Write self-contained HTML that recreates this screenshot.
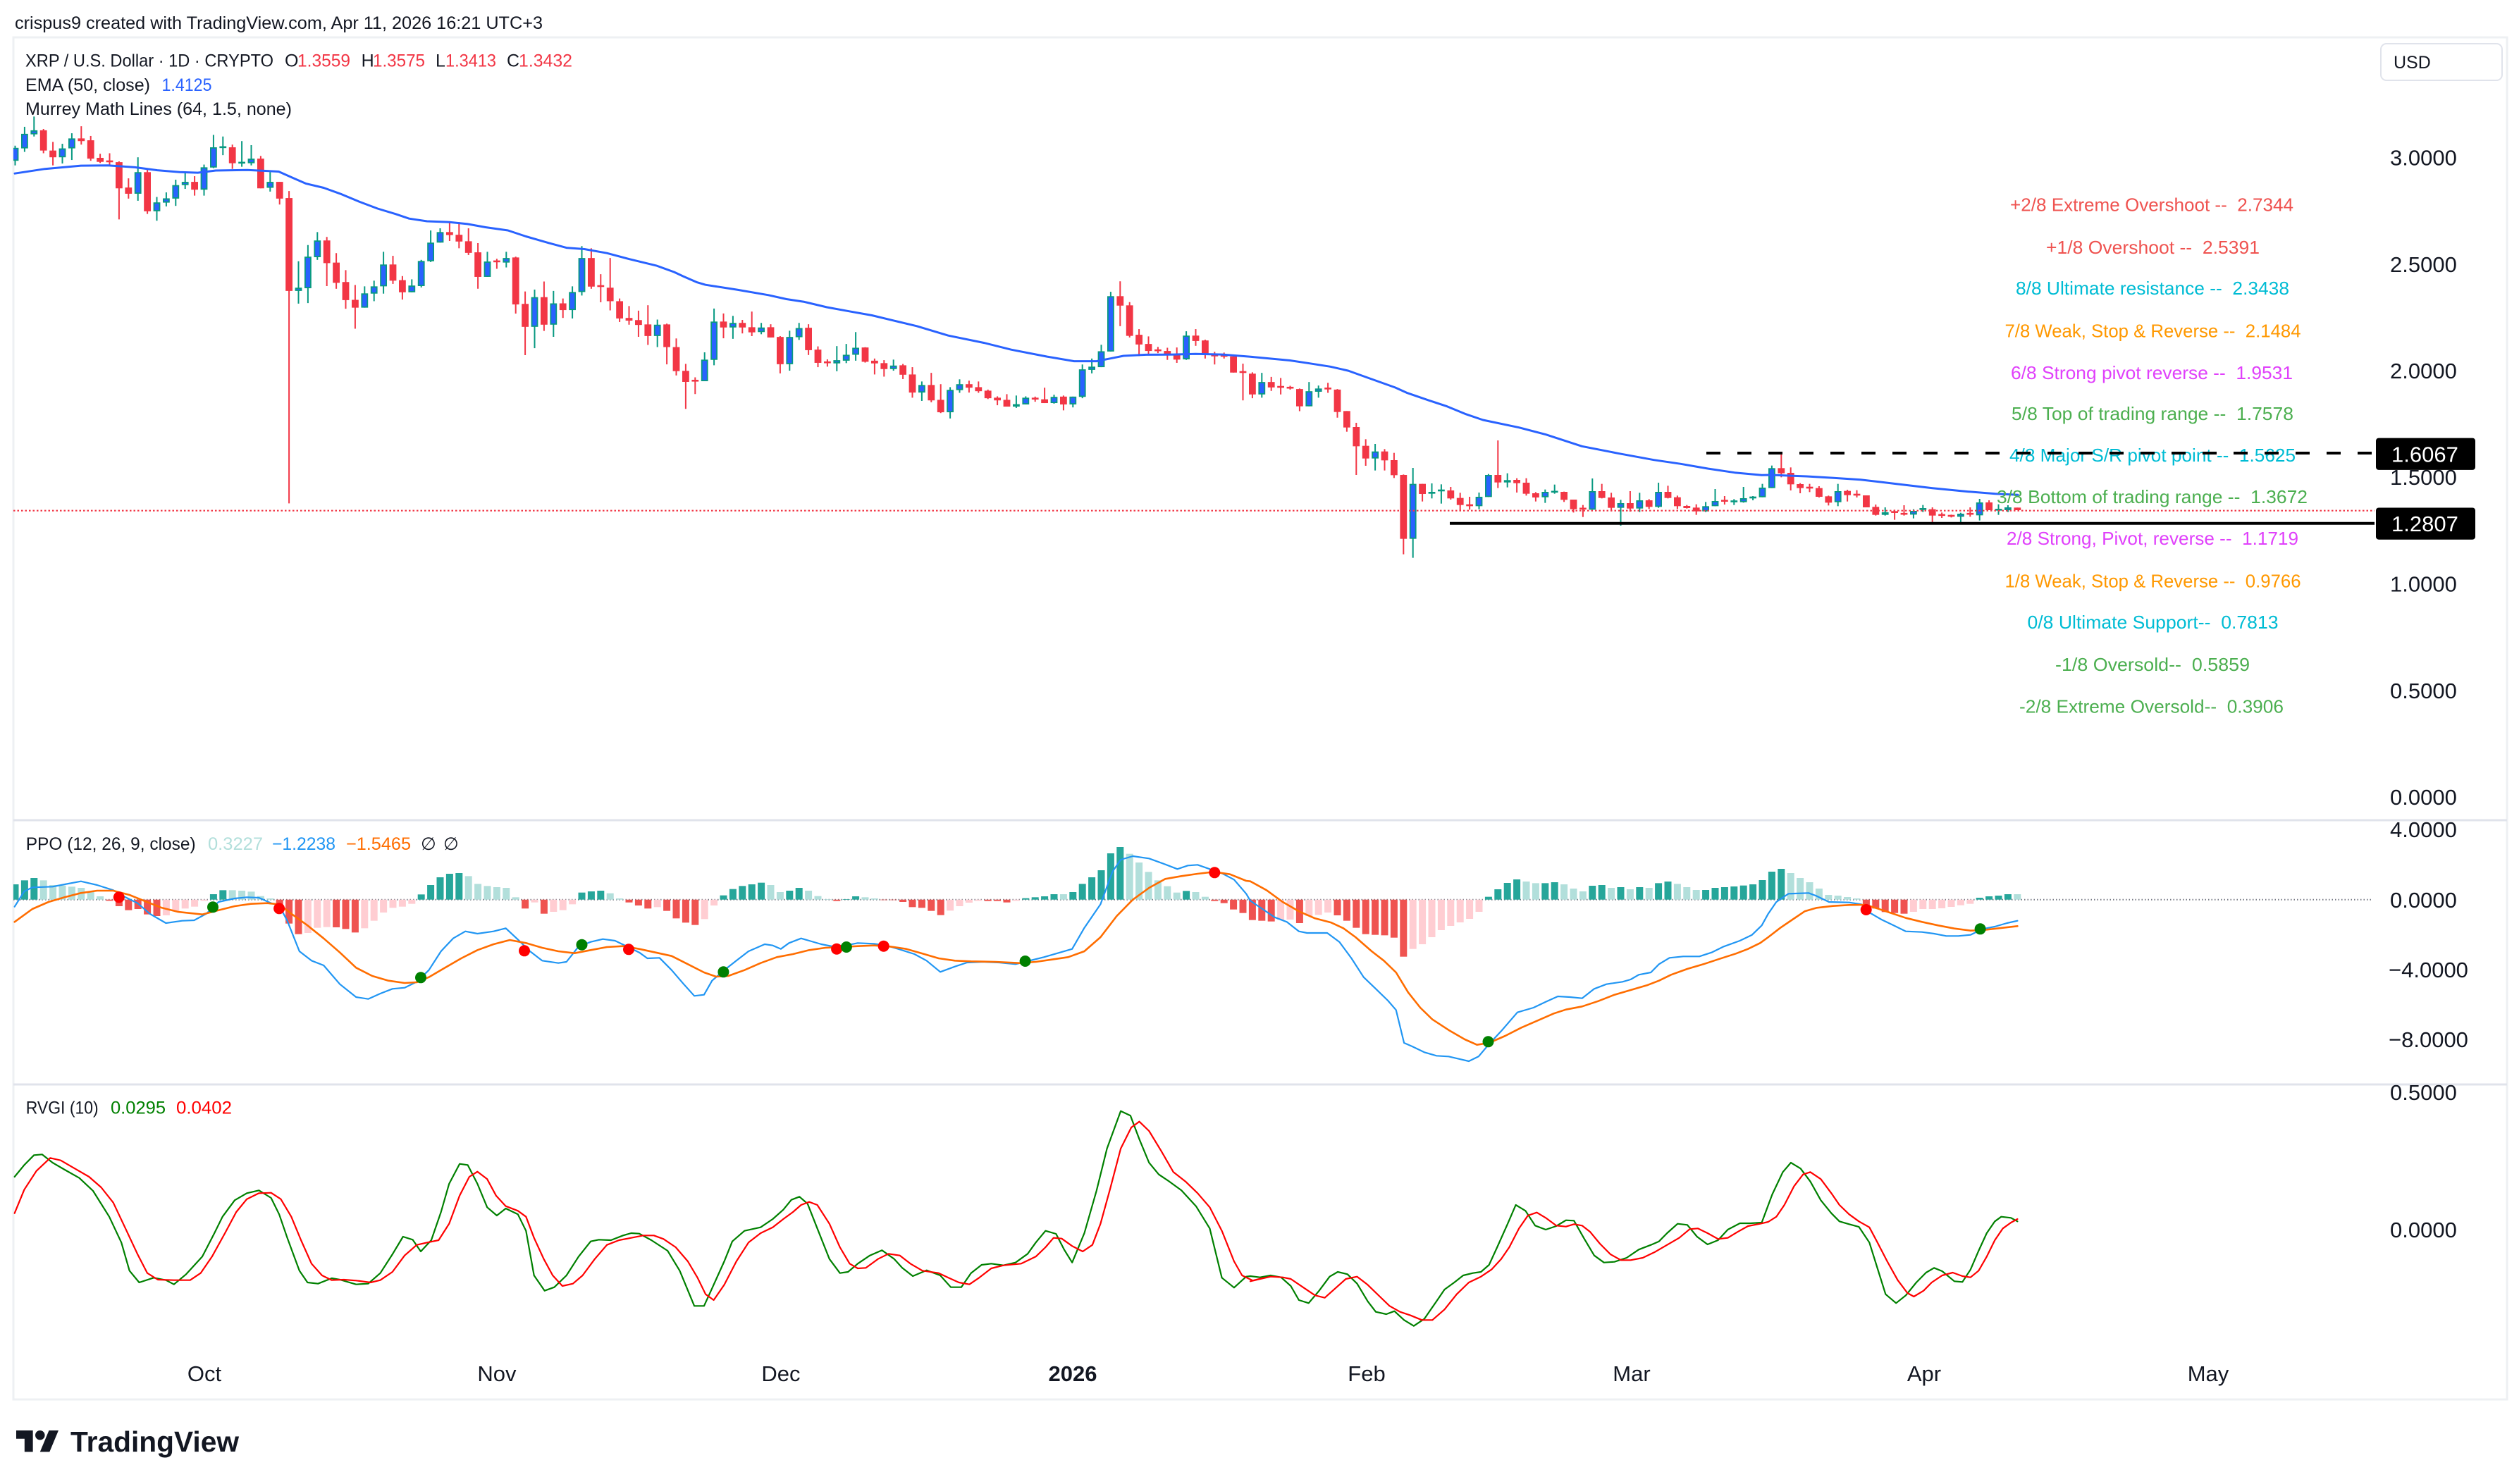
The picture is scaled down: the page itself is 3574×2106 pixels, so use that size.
<!DOCTYPE html>
<html><head><meta charset="utf-8"><style>
html,body{margin:0;padding:0;background:#fff;}
svg{display:block;}
text{font-family:"Liberation Sans",Arial,sans-serif;white-space:pre;}
</style></head><body>
<svg id="s" xmlns="http://www.w3.org/2000/svg" width="3574" height="2106" viewBox="0 0 3574 2106">
<defs>
<clipPath id="cp"><rect x="19" y="53" width="3538" height="1110"/></clipPath>
<clipPath id="cq"><rect x="19" y="1165" width="3538" height="373"/></clipPath>
<clipPath id="cr"><rect x="19" y="1540" width="3538" height="440"/></clipPath>
</defs>
<rect width="3574" height="2106" fill="#fff"/>
<text x="21" y="41" font-size="25" fill="#131722" textLength="749" lengthAdjust="spacingAndGlyphs">crispus9 created with TradingView.com, Apr 11, 2026 16:21 UTC+3</text>
<rect x="19" y="53" width="3538" height="1933" fill="none" stroke="#eef0f3" stroke-width="3"/>
<line x1="19" y1="1164" x2="3557" y2="1164" stroke="#e0e3eb" stroke-width="3"/>
<line x1="19" y1="1539" x2="3557" y2="1539" stroke="#e0e3eb" stroke-width="3"/>

<line x1="19" y1="1276.7" x2="3364" y2="1276.7" stroke="#787b86" stroke-width="2" stroke-dasharray="1.5 3"/>
<g id="gh" clip-path="url(#cq)"></g>
<g id="gp" clip-path="url(#cq)"></g>
<g id="gd"></g>
<g id="gr" clip-path="url(#cr)"></g>
<g id="gc" clip-path="url(#cp)"></g>
<g id="ge" clip-path="url(#cp)"></g>
<line x1="19" y1="724.7" x2="3369" y2="724.7" stroke="#f23645" stroke-width="2.2" stroke-dasharray="2.5 3"/>

<g font-size="26">
<text x="2852" y="299.4" fill="#ef5350" textLength="402" lengthAdjust="spacingAndGlyphs">+2/8 Extreme Overshoot --  2.7344</text>
<text x="2903" y="360" fill="#ef5350" textLength="303" lengthAdjust="spacingAndGlyphs">+1/8 Overshoot --  2.5391</text>
<text x="2860" y="418.2" fill="#00bcd4" textLength="388" lengthAdjust="spacingAndGlyphs">8/8 Ultimate resistance --  2.3438</text>
<text x="2844.5" y="478.4" fill="#ff9800" textLength="420" lengthAdjust="spacingAndGlyphs">7/8 Weak, Stop &amp; Reverse --  2.1484</text>
<text x="2853" y="538.1" fill="#e040fb" textLength="400" lengthAdjust="spacingAndGlyphs">6/8 Strong pivot reverse --  1.9531</text>
<text x="2854" y="595.8" fill="#4caf50" textLength="400" lengthAdjust="spacingAndGlyphs">5/8 Top of trading range --  1.7578</text>
<text x="2851" y="655.2" fill="#00bcd4" textLength="406" lengthAdjust="spacingAndGlyphs">4/8 Major S/R pivot point --  1.5625</text>
<text x="2833" y="713.8" fill="#4caf50" textLength="441" lengthAdjust="spacingAndGlyphs">3/8 Bottom of trading range --  1.3672</text>
<text x="2847" y="773.2" fill="#e040fb" textLength="414" lengthAdjust="spacingAndGlyphs">2/8 Strong, Pivot, reverse --  1.1719</text>
<text x="2844.5" y="833.7" fill="#ff9800" textLength="420" lengthAdjust="spacingAndGlyphs">1/8 Weak, Stop &amp; Reverse --  0.9766</text>
<text x="2876.5" y="892" fill="#00bcd4" textLength="356" lengthAdjust="spacingAndGlyphs">0/8 Ultimate Support--  0.7813</text>
<text x="2916" y="952.1" fill="#4caf50" textLength="276" lengthAdjust="spacingAndGlyphs">-1/8 Oversold--  0.5859</text>
<text x="2865" y="1011.4" fill="#4caf50" textLength="375" lengthAdjust="spacingAndGlyphs">-2/8 Extreme Oversold--  0.3906</text>
</g>

<line x1="2421" y1="643" x2="3369" y2="643" stroke="#000" stroke-width="4" stroke-dasharray="20 24"/>
<line x1="2057" y1="742.7" x2="3369" y2="742.7" stroke="#000" stroke-width="4"/>

<g font-size="31" fill="#131722">
<text x="3391" y="234.7">3.0000</text>
<text x="3391" y="386">2.5000</text>
<text x="3391" y="537.2">2.0000</text>
<text x="3391" y="688.2">1.5000</text>
<text x="3391" y="839.7">1.0000</text>
<text x="3391" y="991.2">0.5000</text>
<text x="3391" y="1142.2">0.0000</text>
<text x="3391" y="1187.9">4.0000</text>
<text x="3391" y="1287.9">0.0000</text>
<text x="3389" y="1387.2">−4.0000</text>
<text x="3389" y="1486.2">−8.0000</text>
<text x="3391" y="1561.2">0.5000</text>
<text x="3391" y="1756.2">0.0000</text>
</g>
<rect x="3371" y="621.6" width="141" height="45.3" rx="4" fill="#000"/>
<text x="3393" y="655.4" font-size="31" fill="#fff">1.6067</text>
<rect x="3371" y="720.5" width="141" height="45.2" rx="4" fill="#000"/>
<text x="3393" y="754.2" font-size="31" fill="#fff">1.2807</text>

<rect x="3378" y="62" width="172" height="52" rx="8" fill="#fff" stroke="#e0e3eb" stroke-width="2"/>
<text x="3396" y="97" font-size="25" fill="#131722">USD</text>

<g font-size="25" fill="#131722">
<text x="36" y="94.7" textLength="352" lengthAdjust="spacingAndGlyphs">XRP / U.S. Dollar · 1D · CRYPTO</text>
<text x="404" y="94.7">O</text><text x="422" y="94.7" fill="#f23645" textLength="75" lengthAdjust="spacingAndGlyphs">1.3559</text>
<text x="512.6" y="94.7">H</text><text x="529" y="94.7" fill="#f23645" textLength="74" lengthAdjust="spacingAndGlyphs">1.3575</text>
<text x="618" y="94.7">L</text><text x="632" y="94.7" fill="#f23645" textLength="72" lengthAdjust="spacingAndGlyphs">1.3413</text>
<text x="719" y="94.7">C</text><text x="736" y="94.7" fill="#f23645" textLength="76" lengthAdjust="spacingAndGlyphs">1.3432</text>
<text x="36" y="129" textLength="177" lengthAdjust="spacingAndGlyphs">EMA (50, close)</text>
<text x="229.5" y="129" fill="#2962ff" textLength="71" lengthAdjust="spacingAndGlyphs">1.4125</text>
<text x="36" y="163" textLength="378" lengthAdjust="spacingAndGlyphs">Murrey Math Lines (64, 1.5, none)</text>
<text x="36.7" y="1206" textLength="241" lengthAdjust="spacingAndGlyphs">PPO (12, 26, 9, close)</text>
<text x="295" y="1206" fill="#b2dfdb" textLength="78" lengthAdjust="spacingAndGlyphs">0.3227</text>
<text x="386" y="1206" fill="#2196f3" textLength="90" lengthAdjust="spacingAndGlyphs">−1.2238</text>
<text x="491" y="1206" fill="#ff6d00" textLength="92" lengthAdjust="spacingAndGlyphs">−1.5465</text>
<text x="597" y="1206">∅</text><text x="629" y="1206">∅</text>
<text x="36.7" y="1580.7" textLength="103" lengthAdjust="spacingAndGlyphs">RVGI (10)</text>
<text x="157" y="1580.7" fill="#008000" textLength="78" lengthAdjust="spacingAndGlyphs">0.0295</text>
<text x="250" y="1580.7" fill="#ff0000" textLength="79" lengthAdjust="spacingAndGlyphs">0.0402</text>
</g>

<g font-size="31" fill="#131722" text-anchor="middle">
<text x="290" y="1960">Oct</text>
<text x="705" y="1960">Nov</text>
<text x="1108" y="1960">Dec</text>
<text x="1522" y="1960" font-weight="bold">2026</text>
<text x="1939" y="1960">Feb</text>
<text x="2315" y="1960">Mar</text>
<text x="2730" y="1960">Apr</text>
<text x="3133" y="1960">May</text>
</g>

<g transform="translate(23,2023.2) scale(1.69)" fill="#131722">
<path d="M14 22H7V11H0V4h14v18z"/>
<circle cx="20" cy="8" r="4"/>
<path d="M28 22h-8l7.5-18h8L28 22z"/>
</g>
<text x="100" y="2060" font-size="41" font-weight="bold" fill="#131722" textLength="239" lengthAdjust="spacingAndGlyphs">TradingView</text>
</svg>
<script>
(function(){
var NS='http://www.w3.org/2000/svg';
function E(t,a,p){var e=document.createElementNS(NS,t);for(var k in a)e.setAttribute(k,a[k]);p.appendChild(e);return e;}
function X(i){return 21.5+13.4*i;}
function g(id){return document.getElementById(id);}
var C4="1,130,178,122,195;1,78,132,52,145;1,65,80,14,88;0,65,140,60,150;0,140,165,108,195;1,132,165,115,188;1,95,132,76,175;0,95,105,50,118;0,102,170,86,178;0,167,182,152,186;0,178,182,150,198;0,183,280,180,395;0,277,300,243,318;1,220,300,165,326;0,220,365,205,375;1,332,365,312,400;1,317,333,295,347;1,268,318,248,345;1,256,268,218,282;0,256,285,235,307;1,202,285,192,307;1,128,203,82,205;1,125,130,88,157;0,128,187,118,208;1,183,187,105,200;1,170,187,120,195;0,170,280,160,280;1,256,278,220,292;0,256,318,256,340;0,316,660,290,1447;1,648,660,550,707;1,533,650,490,705;1,473,535,442,545;0,473,557,460,642;0,555,630,520,652;0,627,694,583,726;0,693,722,638,800;1,669,722,643,722;1,643,670,622,698;1,562,643,515,670;0,562,622,530,634;0,620,665,605,692;1,640,665,617,665;1,549,642,545,647;1,481,550,436,553;1,442,481,428,481;0,442,453,403,475;0,452,477,405,502;0,476,519,428,527;0,517,608,483,652;1,551,608,515,608;0,548,553,541,578;1,538,555,515,573;0,536,710,533,744;0,708,793,662,898;1,683,793,655,872;0,683,785,625,808;1,706,785,660,830;0,706,731,688,760;1,664,731,643,762;1,538,664,494,677;0,538,644,502,652;0,640,644,598,702;0,648,698,538,732;0,698,762,688,775;0,760,770,716,785;0,768,786,733,830;0,784,827,713,860;1,785,827,766,868;0,784,868,781,932;0,868,957,836,973;0,956,997,930,1097;0,990,995,980,1042";
var C5="1,549,629,522,629;1,408,550,360,570;0,408,430,378,470;1,413,430,387,472;0,413,430,402,452;0,429,448,371,462;1,430,447,413,455;0,429,467,418,467;0,465,566,462,600;1,465,566,442,590;1,432,466,413,476;0,431,514,418,532;0,512,561,500,577;0,557,561,548,575;1,551,563,499,592;1,531,553,491,562;1,505,531,447,553;0,504,557,503,560;0,553,563,545,604;0,562,584,551,612;1,571,584,549,590;0,570,605,565,621;0,604,671,577,690;1,643,671,630,702;0,643,700,598,707;0,698,744,640,747;1,661,744,651,767;1,640,662,622,672;0,640,653,627,671;0,651,666,630,672;0,664,692,660,695;0,690,700,685,718;0,698,723,677,723;1,714,723,682,728;1,690,715,685,715;0,690,697,686,705;0,696,710,653,710;1,687,710,679,712;0,686,715,682,737;1,686,715,686,726;1,585,687,567,692;1,575,587,545,600;1,518,577,494,577;1,314,519,298,519;0,314,349,259,425;0,348,461,336,467;0,457,493,436,536;0,491,517,463,530;0,512,517,502,525;0,517,533,505,550;0,532,549,504,561;1,460,548,444,550;0,460,480,436,498;0,478,527,475,545;0,526,537,520,567;0,533,537,523,545;0,537,597,535,597;0,593,597,564,700;0,601,678,596,692;1,632,678,598,690;0,632,652,613,665;0,648,652,617,678;0,651,655,646,660;0,658,722,656,740;1,666,722,632,722;1,656,668,645,690;0,654,658,635,672;0,660,743,658,764";
var C6="0,100,170,100,188;0,168,250,150,372;0,248,302,220,333;1,272,302,240,353;0,272,310,262,353;0,309,373,278,385;0,372,644,370,710;1,410,644,342,725;0,410,453,410,485;1,444,452,408,472;1,436,440,412,494;0,438,472,423,477;0,470,500,448,522;0,497,505,465,520;1,465,505,447,518;1,372,466,368,466;0,372,404,225,428;1,394,404,365,425;0,393,407,386,447;0,405,452,386,460;0,450,468,445,485;1,444,467,434,491;1,441,446,413,452;0,444,478,443,487;0,477,518,477,532;0,513,518,500,551;1,441,520,387,520;0,441,470,410,472;0,468,512,448,527;1,492,512,478,588;0,492,515,441,528;1,480,515,448,530;0,480,508,475,517;1,444,508,405,512;0,444,470,418,472;0,467,505,460,517;0,504,513,500,515;0,511,527,497,542;1,505,527,487,530;1,483,505,432,505;0,480,484,462,498;1,482,487,475,500;1,471,488,423,490;1,464,472,462,480;1,426,467,410,467;1,343,428,332,428;0,343,365,282,382;0,363,412,340,438;0,411,428,407,450;0,424,428,410,445;0,428,465,420,468;0,463,490,460,502;1,441,488,410,505;0,440,458,435,485;0,454,458,437,468;0,459,510,459,510;0,508,542,498,545;1,531,542,510,545;0,528,532,520,563;0,535,540,501,545;1,525,541,518,557;1,515,519,500,530;0,518,545,510,577;0,540,545,532,555;0,544,548,541,553;1,537,550,533,580;0,535,540,510,550;1,489,544,474,566;0,489,522,480,522;1,518,522,497,542;1,510,522,501,530;0,511,522,511,522";
var gc=g('gc');
[[0,160,2.61,C4],[73,300,2.61,C5],[141,550,3,C6]].forEach(function(sg){
 var st=sg[0],off=sg[1],sc=sg[2];
 sg[3].split(';').forEach(function(r,k){
  var c=r.split(',').map(Number),i=st+k,x=X(i),u=c[0];
  function Y(v){return off+v/sc;}
  var col=u?'#089981':'#f23645';
  E('line',{x1:x,x2:x,y1:Y(c[3]),y2:Y(c[4]),stroke:col,'stroke-width':2},gc);
  var t=Y(c[1]),b=Y(c[2]);
  if(b-t<2.6){var m=(t+b)/2;t=m-1.3;b=m+1.3;}
  if(u){E('rect',{x:x-4,y:t+0.9,width:8,height:Math.max(b-t-1.8,0.6),fill:'#2962ff',stroke:col,'stroke-width':1.8},gc);}
  else{E('rect',{x:x-4.9,y:t,width:9.8,height:b-t,fill:col},gc);}
 });
});
function P(s){return s.trim().split(/\s+/).map(function(p){return p.split(',').map(Number);});}
function pl(parts,col,w,par){
 var pts=[];
 parts.forEach(function(pt){var fx=pt[1],fy=pt[2];P(pt[0]).forEach(function(p){pts.push(fx(p[0]).toFixed(1)+','+fy(p[1]).toFixed(1));});});
 E('polyline',{points:pts.join(' '),fill:'none',stroke:col,'stroke-width':w,'stroke-linejoin':'round','stroke-linecap':'round'},par);
}
// EMA
pl([["33,225 100,208 180,196 240,195 300,202 350,213 400,220 440,222 480,214 550,212 620,218 650,240 680,262 720,278 760,302 800,330 840,355 880,375 910,392 950,402 1000,405 1040,412 1080,424 1130,436 1170,458 1220,482 1260,500 1300,505 1350,520 1400,542 1460,566 1500,590",function(x){return x/1.568;},function(y){return 160+y/2.61;}],
["30,240 60,262 80,272 150,290 220,310 260,325 300,335 350,355 400,370 450,385 500,405 550,425 620,460 700,487 760,512 840,538 900,555 950,555 980,545 1010,535 1060,531 1120,530 1170,528 1230,530 1290,538 1380,552 1420,562 1470,575 1510,590 1540,608",function(x){return 950+x/1.568;},function(y){return 300+y/2.61;}],
["125,0 150,22 200,55 240,80 280,112 320,138 400,170 460,200 540,250 620,280 700,308 760,325 820,345 880,362 940,373 960,372 1040,378 1100,385 1160,392 1240,410 1320,428 1400,443 1460,452 1510,457",function(x){return 1900+x/1.568;},function(y){return 550+y/3;}]],'#2962ff',3,g('ge'));
// Histogram
var H="D315 D298 D288 L298 L318 L320 L325 L330 L348 L366 R385 R408 R425 R420 R443 R450 P447 P430 P418 P410 P385 D357 D340 L340 L342 L346 L365 L375 R407 R482 R527 P522 P500 P497 R498 R505 R520 P502 P470 P435 P415 P410 P398 D358 D318 D285 D270 D267 L280 L313 L322 L327 L330 L370 R418 P392 R440 P432 P425 P400 D350 D345 D342 L353 L375 R392 R405 R418 P412 R428 R460 R478 R488 P463 P405 D362 D335 D322 D315 D308 L318 L348 D342 D330 L342 L365 L378 R386 D378 D366 L370 L375 R382 R382 R390 R412 R415 R428 R446 P427 P408 P393 P385 R386 R386 R392 P385 D374 D370 D366 D357 L357 D348 D313 D285 D255 D183 D156 L185 L222 L262 L298 L323 L350 D343 L348 L368 R386 R395 R422 R437 R467 R470 R473 P466 P465 R480 P450 P445 P435 R447 R470 R500 R527 R530 R532 R542 R623 P590 P570 P540 P510 P492 P477 P462 P432 D368 D336 D309 D294 L303 L310 D310 D306 L315 L333 L345 D321 D318 L330 D327 L336 D327 L330 D310 D303 L313 L327 L339 D339 D330 D327 D324 D320 D315 D297 D261 D249 L267 L288 L306 L333 L360 L363 L369 L375 R408 R418 R433 R437 R440 P432 P420 P420 P417 P411 P404 P398 D372 D366 D363 D357 L357";
var HC={D:'#26a69a',L:'#b2dfdb',R:'#ef5350',P:'#ffcdd2'};
var gh=g('gh'),z=1276.7;
H.split(' ').forEach(function(s,i){var t=s[0],y=1150+Number(s.slice(1))/3,x=X(i);E('rect',{x:x-5,y:Math.min(y,z),width:10,height:Math.max(Math.abs(y-z),0.5),fill:HC[t]},gh);});
// PPO lines
var f7x=function(x){return x/0.871;},f8x=function(x){return 1774+x/0.871;},fpy=function(y){return 1150+y/3;};
pl([["18,410 30,345 40,328 65,325 80,315 100,302 120,318 140,340 155,370 170,395 185,440 205,480 225,470 240,468 255,440 270,390 290,375 305,370 320,372 335,395 345,405 355,470 370,600 385,640 400,660 420,740 440,795 455,803 470,780 485,760 500,755 515,730 530,680 545,600 560,545 575,515 590,525 610,515 625,502 640,550 655,600 670,640 690,650 700,645 715,580 730,560 745,548 760,555 775,580 790,605 800,630 815,628 830,680 845,740 858,790 870,785 880,725 895,680 910,640 925,600 945,570 955,575 965,590 975,565 990,545 1000,555 1015,570 1030,580 1045,575 1060,565 1080,568 1095,575 1110,590 1130,612 1145,640 1162,688 1180,665 1195,648 1215,645 1235,648 1255,655 1270,642 1290,625 1310,605 1325,590 1340,500 1360,400 1375,260 1385,210 1400,195 1420,205 1440,230 1455,250 1468,235 1480,232 1495,250 1510,268 1525,295 1540,355",f7x,fpy],
["0,385 15,420 30,455 45,475 60,515 70,522 95,522 110,560 125,630 140,710 155,760 170,810 180,850 190,990 200,1005 215,1030 230,1045 245,1048 260,1060 270,1068 282,1048 295,995 310,940 330,860 350,840 365,815 380,792 395,795 410,800 425,760 440,740 460,730 470,720 480,700 495,690 505,655 518,628 535,622 555,622 570,605 585,580 605,555 620,530 632,490 640,440 650,390 665,355 690,352 700,365 715,390 740,392 755,400 765,435 780,465 795,490 810,515 830,518 845,525 860,535 875,535 890,530 905,505 920,495 935,480 948,470",f8x,fpy]],'#2196f3',2.2,g('gp'));
pl([["18,475 40,420 60,390 80,370 100,352 120,342 140,342 160,360 180,388 200,415 220,432 250,443 270,425 290,408 310,398 330,395 345,400 360,440 380,490 400,545 420,605 440,670 460,705 480,725 500,735 515,732 530,710 550,670 570,630 590,595 610,570 630,552 650,565 670,585 690,600 710,608 730,595 750,582 770,578 790,590 810,605 830,620 850,655 870,690 885,708 900,705 920,680 940,650 960,625 980,612 1000,595 1020,585 1040,582 1060,578 1080,575 1100,580 1120,590 1140,610 1160,630 1180,640 1200,643 1230,645 1260,650 1280,645 1300,635 1320,625 1340,600 1360,540 1380,450 1400,380 1420,330 1440,292 1460,280 1480,270 1500,262 1520,272 1540,300",f7x,fpy],
["0,302 20,340 40,390 60,430 80,460 100,478 115,502 130,540 150,600 165,640 180,690 195,775 210,840 225,890 245,935 265,975 280,998 295,990 315,960 335,925 355,895 375,865 390,848 410,835 430,812 450,785 470,765 490,745 505,725 520,700 540,675 560,655 580,632 600,610 615,590 630,565 640,540 655,500 670,465 685,430 700,415 720,407 740,403 760,402 775,418 790,435 810,458 830,475 850,490 870,503 890,512 905,510 925,502 948,493",f8x,fpy]],'#ff6d00',2.6,g('gp'));
// Dots
var gd=g('gd');
[[168.8,1273.3,0],[302,1287.3,1],[396.1,1289.3,0],[597,1387.3,1],[744,1349.3,0],[825.5,1340.7,1],[892,1347.3,0],[1026.4,1379.3,1],[1187.1,1346.7,0],[1200.9,1344,1],[1253.7,1342.7,0],[1454.6,1364,1],[1723.3,1238.3,0],[2111.5,1478.3,1],[2647.7,1291,0],[2809.6,1318.3,1]].forEach(function(d){E('circle',{cx:d[0],cy:d[1],r:8,fill:d[2]?'#008000':'#ff0000'},gd);});
// RVGI
var fry=function(y){return 1530+y/3;};
pl([["18,420 30,370 42,328 52,325 65,360 80,390 98,425 115,480 135,590 150,700 160,820 172,870 190,850 205,860 215,878 230,835 250,760 265,660 275,590 290,520 305,490 320,478 335,510 345,580 355,680 370,820 380,870 393,875 410,852 420,858 440,878 455,875 470,830 485,750 498,675 510,688 520,738 533,690 545,570 555,450 568,365 578,370 590,450 602,550 614,585 625,555 640,580 650,650 660,840 673,905 685,890 700,840 715,760 730,695 740,688 755,690 770,670 780,660 790,662 805,690 825,735 840,820 858,970 870,970 880,895 895,780 905,695 920,650 940,635 955,600 968,560 978,518 988,505 998,535 1010,640 1025,770 1038,830 1048,825 1060,790 1075,755 1090,733 1105,770 1115,808 1128,843 1145,818 1162,840 1175,890 1188,890 1200,830 1213,795 1225,790 1240,797 1255,785 1270,748 1280,700 1292,650 1305,663 1315,730 1325,785 1340,660 1355,480 1368,300 1385,140 1397,160 1408,260 1420,360 1432,410 1445,440 1460,478 1478,545 1495,640 1510,850 1525,892 1540,845",f7x,fry],
["0,843 12,848 25,840 38,848 50,885 60,945 72,958 85,905 98,845 108,825 120,835 132,875 145,950 155,995 168,1005 178,992 190,1030 202,1055 215,1025 230,950 240,900 252,870 263,840 275,830 285,825 295,795 305,720 318,620 328,540 340,565 352,628 365,645 378,630 390,605 400,607 412,680 425,755 437,785 450,782 465,765 480,730 495,710 505,695 515,660 528,620 540,625 552,675 565,708 578,690 590,645 605,618 618,618 632,615 645,495 658,400 668,360 680,385 692,440 705,520 718,575 728,610 740,622 752,633 765,700 775,810 785,920 798,958 810,925 823,870 835,828 845,808 855,822 870,865 880,868 890,815 900,735 910,660 920,610 928,590 940,595 948,610",f8x,fry]],'#008000',2.2,g('gr'));
pl([["18,575 30,475 45,395 62,340 75,350 90,380 110,420 125,465 140,530 155,640 170,750 182,830 195,858 215,860 235,860 248,830 262,760 278,660 292,570 305,515 320,490 335,488 347,515 360,590 372,690 385,790 398,840 410,860 425,858 440,862 458,870 470,860 485,825 500,755 515,710 528,700 542,690 555,620 568,500 580,420 590,398 602,430 613,500 625,545 640,565 650,590 660,680 672,770 683,840 695,885 708,875 720,840 735,770 750,710 765,690 780,680 795,670 808,670 820,685 835,720 850,780 862,850 872,920 882,945 895,880 910,780 925,700 940,660 955,635 968,600 980,570 990,540 1000,527 1010,540 1025,620 1038,720 1050,790 1060,810 1070,808 1085,770 1098,748 1112,755 1125,790 1140,820 1160,830 1172,850 1185,870 1198,878 1210,850 1225,810 1240,797 1262,790 1280,760 1292,720 1302,680 1312,683 1325,715 1338,738 1350,710 1360,620 1372,470 1385,300 1398,210 1408,185 1420,225 1435,310 1450,400 1465,440 1480,490 1495,550 1510,650 1525,780 1535,840 1548,862 1560,852",f7x,fry],
["0,865 12,855 25,845 40,848 50,855 65,890 80,925 92,935 105,895 118,855 132,845 145,880 160,930 172,970 185,995 198,1010 212,1030 225,1030 240,985 255,920 270,870 285,845 298,815 310,770 320,720 332,640 343,585 354,572 365,595 378,628 390,632 400,622 410,628 420,655 432,705 445,750 458,775 470,775 485,765 500,740 515,710 530,680 543,643 553,640 565,660 578,685 590,680 602,655 615,630 630,620 640,612 650,590 660,540 672,460 683,410 692,400 705,430 718,490 728,540 740,580 752,610 765,635 775,700 787,780 800,860 812,915 820,930 832,905 842,870 855,840 868,828 880,843 890,848 900,820 910,760 920,690 930,640 940,615 948,600",f8x,fry]],'#ff0000',2.2,g('gr'));
})();
</script>
</body></html>
